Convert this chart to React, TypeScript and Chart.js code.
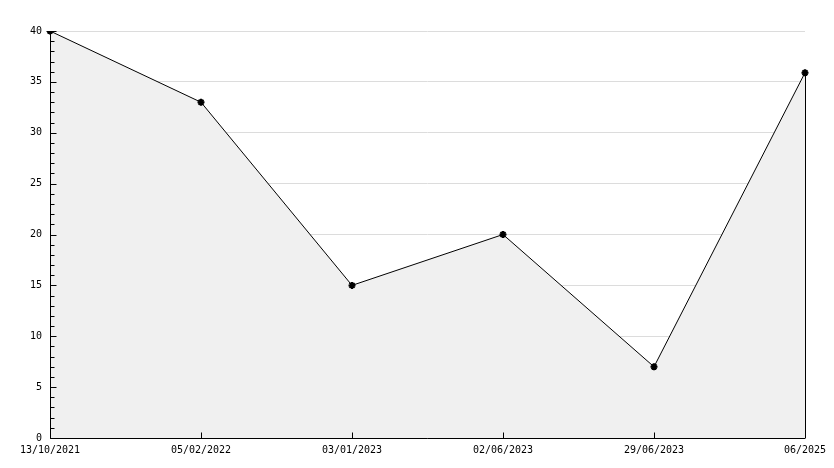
import React, { useEffect, useRef } from "react";
import { Chart, registerables } from "chart.js";

Chart.register(...registerables);

const categories = ["13/10/2021", "05/02/2022", "03/01/2023", "02/06/2023", "29/06/2023", "06/2025"];
const values = [40, 33, 15, 20, 7, 35.9];
const yMin = 0;
const yMax = 40;
const yStep = 5;
const yMinorPerMajor = 5;

const FONT = "'DejaVu Sans Mono', monospace";

const axesPlugin = {
  id: "axesInside",
  afterDatasetsDraw(chart: any) {
    const { ctx, chartArea, scales } = chart;
    const x = scales.x;
    const y = scales.y;
    ctx.save();
    ctx.strokeStyle = "#000";
    ctx.lineWidth = 1;
    // closing line at the right edge of the area
    const lastIdx = values.length - 1;
    const lx = Math.round(x.getPixelForValue(lastIdx)) + 0.5;
    const ly = y.getPixelForValue(values[lastIdx]);
    ctx.beginPath();
    ctx.moveTo(lx, ly);
    ctx.lineTo(lx, y.getPixelForValue(0));
    ctx.stroke();
    // axis lines
    const ax = Math.round(chartArea.left) + 0.5;
    const ay = Math.round(chartArea.bottom) + 0.5;
    ctx.beginPath();
    ctx.moveTo(ax, chartArea.top);
    ctx.lineTo(ax, ay);
    ctx.lineTo(chartArea.right, ay);
    ctx.stroke();
    // y ticks inside
    const minorStep = yStep / yMinorPerMajor;
    for (let v = yMin; v <= yMax + 1e-9; v += minorStep) {
      const isMajor = Math.abs(v / yStep - Math.round(v / yStep)) < 1e-6;
      const py = Math.round(y.getPixelForValue(v)) + 0.5;
      ctx.beginPath();
      ctx.moveTo(ax, py);
      ctx.lineTo(ax + (isMajor ? 6 : 4), py);
      ctx.stroke();
    }
    // x ticks inside
    for (let i = 0; i < categories.length; i++) {
      const px = Math.round(x.getPixelForValue(i)) + 0.5;
      ctx.beginPath();
      ctx.moveTo(px, ay);
      ctx.lineTo(px, ay - 6);
      ctx.stroke();
    }
    ctx.restore();
  },
};

export default function App() {
  const ref = useRef<HTMLCanvasElement | null>(null);
  useEffect(() => {
    document.body.style.margin = "0";
    if (!ref.current) return;
    const chart = new Chart(ref.current, {
      type: "line",
      data: {
        labels: categories,
        datasets: [
          {
            data: values,
            fill: "origin",
            backgroundColor: "#f0f0f0",
            borderColor: "#000",
            borderWidth: 1,
            tension: 0,
            pointStyle: "star",
            pointRadius: 3.5,
            pointBorderWidth: 2,
            pointBackgroundColor: "#000",
            pointBorderColor: "#000",
          },
        ],
      },
      options: {
        responsive: false,
        animation: false,
        maintainAspectRatio: false,
        layout: { padding: { top: 31, right: 29, left: 0, bottom: 0 } },
        plugins: { legend: { display: false }, tooltip: { enabled: false } },
        scales: {
          x: {
            offset: false,
            grid: { display: false, drawTicks: false },
            border: { display: false },
            ticks: {
              color: "#000",
              font: { family: FONT, size: 10 },
              padding: 6,
              maxRotation: 0,
              autoSkip: false,
            },
            afterFit: (s: any) => {
              s.height = 30;
            },
          },
          y: {
            min: yMin,
            max: yMax,
            grid: { color: "#dcdcdc", drawTicks: false },
            border: { display: false },
            ticks: {
              stepSize: yStep,
              color: "#000",
              font: { family: FONT, size: 10 },
              padding: 8,
            },
            afterFit: (s: any) => {
              s.width = 50;
            },
          },
        },
      },
      plugins: [axesPlugin],
    });
    return () => chart.destroy();
  }, []);
  return (
    <div style={{ position: "absolute", left: 0, top: 0, width: 834, height: 468 }}>
      <canvas ref={ref} width={834} height={468} style={{ width: 834, height: 468, display: "block" }} />
    </div>
  );
}
